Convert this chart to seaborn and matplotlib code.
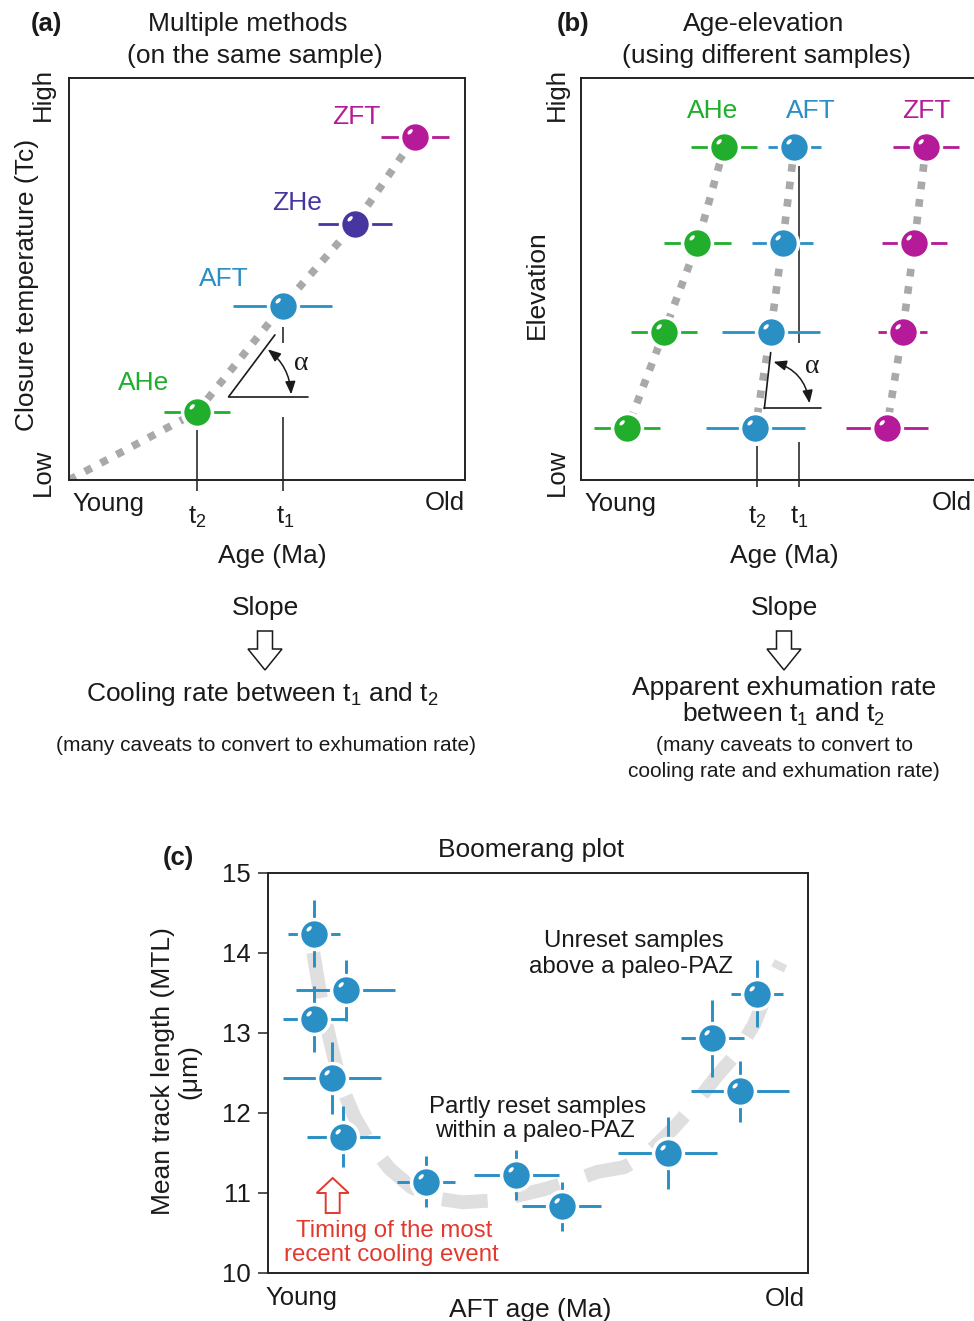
"""
Thermochronology sketch: multiple methods, age-elevation and boomerang plots
"""

import numpy as np
import matplotlib
matplotlib.use('Agg')
import matplotlib.pyplot as plt
import seaborn as sns
from matplotlib.path import Path
from matplotlib.patches import FancyArrowPatch, FancyArrow

sns.set_theme(style='white')
plt.rcParams['font.family'] = ['Liberation Sans', 'DejaVu Sans']
plt.rcParams['mathtext.fontset'] = 'custom'
plt.rcParams['mathtext.rm'] = 'Liberation Sans'
plt.rcParams['mathtext.it'] = 'Liberation Sans:italic'
plt.rcParams['mathtext.default'] = 'regular'

# ---- data (schematic units 0-100 for panels a/b) ----
# (a) one sample, several thermochronometers
a_methods = ['AHe', 'AFT', 'ZHe', 'ZFT']
a_age = [32.3, 54.0, 72.2, 87.4]
a_tc = [16.9, 43.3, 63.7, 85.3]
a_age_err = [8.3, 12.5, 9.3, 8.5]
a_trend_x = [0, 32.3, 54.0, 72.2, 87.4]
a_trend_y = [0, 16.9, 43.3, 63.7, 85.3]

# (b) age-elevation profiles (top to bottom)
b_elev = [82.9, 58.9, 36.9, 12.9]
b_ahe_age = [36.2, 29.4, 21.0, 11.7]
b_aft_age = [53.9, 50.9, 47.9, 44.0]
b_zft_age = [87.1, 84.2, 81.2, 77.2]
b_ahe_err = [8.3, 8.4, 8.3, 8.3]
b_aft_err = [6.6, 7.8, 12.4, 12.5]
b_zft_err = [8.3, 8.3, 6.1, 10.4]

# (c) boomerang plot: AFT age (relative) vs mean track length
c_age = [8.5, 14.4, 8.5, 11.9, 13.95, 29.2, 46.0, 54.4, 74.0, 87.4, 82.3, 90.6]
c_mtl = [14.24, 13.53, 13.17, 12.44, 11.70, 11.14, 11.22, 10.83, 11.50, 12.27, 12.93, 13.49]
c_age_err = [4.8, 9.2, 5.7, 9.1, 6.7, 5.4, 7.9, 7.3, 9.2, 9.1, 5.9, 4.8]
c_mtl_err = [0.42, 0.38, 0.41, 0.45, 0.38, 0.32, 0.31, 0.31, 0.45, 0.38, 0.48, 0.42]
boom_x = [8.4, 9.0, 10.0, 11.5, 13.5, 16.0, 19.0, 22.5, 26.5, 31.0, 36.0, 41.0, 46.0,
          51.0, 56.0, 61.0, 66.0, 70.5, 75.0, 79.0, 83.0, 86.5, 90.0, 93.0, 95.0]
boom_y = [14.0, 13.75, 13.35, 12.9, 12.35, 11.95, 11.6, 11.3, 11.07, 10.93, 10.88, 10.9, 10.96,
          11.04, 11.14, 11.26, 11.32, 11.5, 11.8, 12.1, 12.45, 12.72, 13.1, 13.6, 13.88]
c_yticks = [10, 11, 12, 13, 14, 15]

colors = {'AHe': '#21ae2d', 'AFT': '#2a8fc5', 'ZHe': '#47369f', 'ZFT': '#b51a98'}
GRAY_DOT = '#a9a9a9'
GRAY_BOOM = '#dfdfdf'
RED = '#e23a2f'
INK = '#1a1a1a'

W, H = 974, 1321
fig = plt.figure(figsize=(W / 100, H / 100), dpi=100)


def px_axes(x0, y0, x1, y1):
    return fig.add_axes([x0 / W, 1 - y1 / H, (x1 - x0) / W, (y1 - y0) / H])


def shine_marker():
    # small white highlight at the upper-left of a ball; the two lone
    # MOVETOs fix the marker scale to the unit circle
    t = np.linspace(0, 2 * np.pi, 30)
    ang = np.deg2rad(45)
    ex, ey = 0.22 * np.cos(t), 0.12 * np.sin(t)
    hx = -0.36 + ex * np.cos(ang) - ey * np.sin(ang)
    hy = 0.38 + ex * np.sin(ang) + ey * np.cos(ang)
    verts = np.vstack([[-1, -1], [1, 1], np.column_stack([hx, hy])])
    codes = [Path.MOVETO, Path.MOVETO, Path.MOVETO] + [Path.LINETO] * (len(t) - 2) + [Path.CLOSEPOLY]
    return Path(verts, codes)


SHINE = shine_marker()
BALL_S = 462


def balls(ax, x, y, color, xerr, yerr=None, elw=2.0):
    ax.errorbar(x, y, xerr=xerr, yerr=yerr, fmt='none', ecolor=color,
                elinewidth=elw, capsize=0, zorder=2)
    sns.scatterplot(x=x, y=y, ax=ax, s=BALL_S, color=color, edgecolor='white',
                    linewidth=2.5, zorder=3, legend=False)
    ax.scatter(x, y, s=BALL_S, marker=SHINE, color='white', linewidth=0, zorder=4)


def box(ax):
    ax.set_xlim(0, 100)
    ax.set_ylim(0, 100)
    ax.set_xticks([])
    ax.set_yticks([])
    ax.set_xlabel('')
    ax.set_ylabel('')
    for sp in ax.spines.values():
        sp.set_color('#222222')
        sp.set_linewidth(1.4)


def arc(ax, p0, p1, rad):
    ax.add_patch(FancyArrowPatch(p0, p1, connectionstyle=f'arc3,rad={rad}',
                                 arrowstyle='<|-|>,head_length=0.55,head_width=0.22',
                                 mutation_scale=14, color=INK, lw=1.1,
                                 shrinkA=0, shrinkB=0, zorder=5))


# ---- (a) multiple methods ----
ax_a = px_axes(69, 78, 465, 480)
sns.lineplot(x=a_trend_x, y=a_trend_y, ax=ax_a, sort=False, estimator=None, errorbar=None,
             color=GRAY_DOT, lw=5.5, linestyle=(0, (1, 1.35)), dash_capstyle='butt', zorder=1)
for m, x, y, e in zip(a_methods, a_age, a_tc, a_age_err):
    balls(ax_a, [x], [y], colors[m], [e])
box(ax_a)

# t2 / t1 guides and slope triangle
ax_a.vlines(a_age[0], -2.7, 12.4, color=INK, lw=1.1, clip_on=False)
ax_a.vlines(a_age[1], 34.0, 38.1, color=INK, lw=1.1)
ax_a.vlines(a_age[1], -2.7, 15.7, color=INK, lw=1.1, clip_on=False)
ax_a.plot([40.3, 52.0], [20.7, 36.1], color=INK, lw=1.2)
ax_a.plot([40.3, 60.4], [20.7, 20.7], color=INK, lw=1.2)
arc(ax_a, (50.2, 32.5), (56.1, 21.3), -0.22)
ax_a.text(58.6, 29.0, 'α', family='Liberation Serif', fontsize=20, ha='center', va='center', color=INK)

# ---- (b) age-elevation ----
ax_b = px_axes(581, 78, 977, 480)
for m, ages, errs in [('AHe', b_ahe_age, b_ahe_err), ('AFT', b_aft_age, b_aft_err),
                      ('ZFT', b_zft_age, b_zft_err)]:
    sns.lineplot(x=ages, y=b_elev, ax=ax_b, sort=False, estimator=None, errorbar=None,
                 color=GRAY_DOT, lw=5.5, linestyle=(0, (1, 1.3)), dash_capstyle='butt', zorder=1)
    balls(ax_b, ages, b_elev, colors[m], errs)
box(ax_b)

B_T1, B_T2 = 55.0, 44.4
ax_b.vlines(B_T1, 34.0, 78.1, color=INK, lw=1.1, zorder=1.5)
ax_b.vlines(B_T1, -1.8, 9.5, color=INK, lw=1.1, clip_on=False)
ax_b.vlines(B_T2, -1.8, 8.5, color=INK, lw=1.1, clip_on=False)
ax_b.plot([46.3, 47.9], [17.8, 31.7], color=INK, lw=1.2)
ax_b.plot([46.3, 60.6], [17.8, 17.8], color=INK, lw=1.2)
arc(ax_b, (48.6, 29.4), (57.7, 19.1), -0.32)
ax_b.text(58.3, 28.2, 'α', family='Liberation Serif', fontsize=20, ha='center', va='center', color=INK)

# ---- (c) boomerang plot ----
ax_c = px_axes(268, 872.7, 808, 1272.7)
sns.lineplot(x=boom_x, y=boom_y, ax=ax_c, sort=False, estimator=None, errorbar=None,
             color=GRAY_BOOM, lw=10, linestyle=(0, (3.3, 2.0)), dash_capstyle='butt', zorder=1)
balls(ax_c, c_age, c_mtl, colors['AFT'], c_age_err, c_mtl_err, elw=2.1)
ax_c.set_xlim(0, 100)
ax_c.set_ylim(10, 15)
ax_c.set_xticks([])
ax_c.set_yticks(c_yticks)
ax_c.set_yticklabels([str(v) for v in c_yticks])
ax_c.set_xlabel('')
ax_c.set_ylabel('')
ax_c.tick_params(axis='y', direction='out', length=7.5, width=1.1, color='#222222',
                 labelsize=18.5, pad=5, left=True, labelcolor=INK)
for sp in ax_c.spines.values():
    sp.set_color('#222222')
    sp.set_linewidth(1.4)

# ---- free text and arrows (pixel coordinates) ----
ov = fig.add_axes([0, 0, 1, 1])
ov.set_xlim(0, W)
ov.set_ylim(H, 0)
ov.axis('off')
ov.patch.set_alpha(0)


def label(x, y, s, size=18.5, **kw):
    kw.setdefault('color', INK)
    # small nudge: matplotlib centres on the line box, not the glyphs
    ov.text(x, y + 1.5, s, fontsize=size, ha='center', va='center', **kw)


label(46, 22, '(a)', weight='bold')
label(248, 22, 'Multiple methods', 19)
label(255, 55, '(on the same sample)', 19)
label(573, 22, '(b)', weight='bold')
label(764, 22, 'Age-elevation', 19)
label(766, 55, '(using different samples)', 19)

label(27, 283, 'Closure temperature (Tc)', 19, rotation=90)
label(43, 93, 'High', rotation=90)
label(43, 471, 'Low', rotation=90)
label(108, 502, 'Young')
label(445, 502, 'Old')
label(197, 516, 't$_2$')
label(285, 516, 't$_1$')
label(272, 554, 'Age (Ma)', 19)

label(537, 283, 'Elevation', 19, rotation=90)
label(557, 93, 'High', rotation=90)
label(557, 471, 'Low', rotation=90)
label(620, 502, 'Young')
label(952, 502, 'Old')
label(757, 516, 't$_2$')
label(799, 516, 't$_1$')
label(784, 554, 'Age (Ma)', 19)

# method labels
label(144, 381, 'AHe', 19, color=colors['AHe'])
label(224, 278, 'AFT', 19, color=colors['AFT'])
label(297, 201, 'ZHe', 19, color=colors['ZHe'])
label(356, 115, 'ZFT', 19, color=colors['ZFT'])
label(713, 109, 'AHe', 19, color=colors['AHe'])
label(811, 109, 'AFT', 19, color=colors['AFT'])
label(926, 109, 'ZFT', 19, color=colors['ZFT'])

# slope interpretation
label(265, 607, 'Slope', 19)
label(784, 607, 'Slope', 19)
for x in (265, 784):
    ov.add_patch(FancyArrow(x, 631, 0, 39, width=15, head_width=34, head_length=21,
                            length_includes_head=True, fc='white', ec=INK, lw=1.1))
label(262, 693, 'Cooling rate between t$_1$ and t$_2$', 19)
label(266, 744, '(many caveats to convert to exhumation rate)', 15)
label(784, 686, 'Apparent exhumation rate', 19)
label(784, 713, 'between t$_1$ and t$_2$', 19)
label(784, 744, '(many caveats to convert to', 15)
label(784, 770, 'cooling rate and exhumation rate)', 15)

# panel c text
label(178, 857, '(c)', weight='bold')
label(531, 848, 'Boomerang plot', 19)
label(176, 1070, 'Mean track length (MTL)\n(μm)', 19, rotation=90, linespacing=1.15)
label(301, 1297, 'Young')
label(785, 1297, 'Old')
label(530, 1309, 'AFT age (Ma)', 19)
label(634, 940, 'Unreset samples', 17.3)
label(631, 965, 'above a paleo-PAZ', 17.3)
label(538, 1106, 'Partly reset samples', 17.3)
label(535, 1130, 'within a paleo-PAZ', 17.3)
label(394, 1230, 'Timing of the most', 17.3, color=RED)
label(391, 1254, 'recent cooling event', 17.3, color=RED)
ov.add_patch(FancyArrow(332.7, 1213, 0, -35, width=14, head_width=32, head_length=15,
                        length_includes_head=True, fc='white', ec=RED, lw=1.4))

fig.savefig('out.png', dpi=100)
